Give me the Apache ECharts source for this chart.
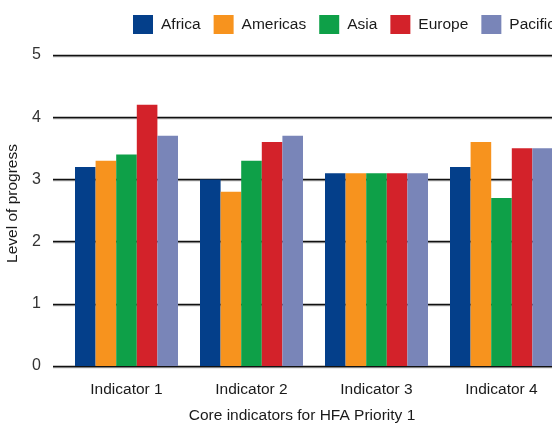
<!DOCTYPE html>
<html>
<head>
<meta charset="utf-8">
<script src="https://cdn.jsdelivr.net/npm/echarts@6/dist/echarts.min.js"></script>
<style>
html,body{margin:0;padding:0;background:#fff;}
#chart{width:552px;height:425px;}
</style>
</head>
<body>
<div id="chart"></div>
<script>
const categories = ['Indicator 1', 'Indicator 2', 'Indicator 3', 'Indicator 4'];
const africa   = [3.2, 3.0, 3.1, 3.2];
const americas = [3.3, 2.8, 3.1, 3.6];
const asia     = [3.4, 3.3, 3.1, 2.7];
const europe   = [4.2, 3.6, 3.1, 3.5];
const pacific  = [3.7, 3.7, 3.1, 3.5];
const seriesNames = ['Africa', 'Americas', 'Asia', 'Europe', 'Pacific'];
const seriesColors = ['#043f8a', '#f7931e', '#0ea048', '#d3222a', '#7985b8'];
const yTicks = [0, 1, 2, 3, 4, 5];

const FONT = "'Liberation Sans', Arial, sans-serif";
const FS = 15.5;
const seriesData = [africa, americas, asia, europe, pacific];

const chart = echarts.init(document.getElementById('chart'));
const gridLine = { color: '#111', width: 1.3, shadowColor: 'rgba(0,0,0,0.35)', shadowOffsetY: 1, shadowBlur: 0 };

chart.setOption({
  animation: false,
  textStyle: { fontFamily: FONT },
  legend: {
    left: 133, top: 15, width: 700, padding: 0,
    itemWidth: 20, itemHeight: 19, itemGap: 13,
    icon: 'rect',
    data: seriesNames,
    textStyle: { fontSize: FS, color: '#1a1a1a', fontFamily: FONT, padding: [0, 0, 0, 3] }
  },
  grid: [
    { left: 53, right: -12, top: 55, bottom: 59, outerBoundsMode: 'none', containLabel: false },
    { left: 64, right: -12, top: 55, bottom: 59, outerBoundsMode: 'none', containLabel: false }
  ],
  xAxis: [
    { type: 'value', gridIndex: 0, show: false, min: 0, max: 1 },
    {
      type: 'category', gridIndex: 1, data: categories,
      axisLine: { show: false }, axisTick: { show: false },
      axisLabel: { fontSize: FS, color: '#1a1a1a', margin: 16, fontFamily: FONT },
      name: 'Core indicators for HFA Priority 1',
      nameLocation: 'middle', nameGap: 42,
      nameTextStyle: { fontSize: FS, color: '#1a1a1a', fontFamily: FONT, padding: [0, 24, 0, 0] }
    }
  ],
  yAxis: [
    {
      type: 'value', gridIndex: 0, min: yTicks[0], max: yTicks[yTicks.length - 1], interval: 1,
      axisLine: { show: false }, axisTick: { show: false },
      axisLabel: { fontSize: 16, color: '#333', margin: 12, fontFamily: FONT },
      splitLine: { show: true, lineStyle: gridLine },
      name: 'Level of progress', nameLocation: 'middle', nameGap: 30,
      nameTextStyle: { fontSize: FS, color: '#1a1a1a', fontFamily: FONT, padding: [0, 0, 0, 14] }
    },
    { type: 'value', gridIndex: 1, min: 0, max: 5, show: false }
  ],
  series: seriesNames.map((n, i) => ({
    name: n, type: 'bar', xAxisIndex: 1, yAxisIndex: 1,
    data: seriesData[i],
    itemStyle: { color: seriesColors[i] },
    barGap: '0%', barCategoryGap: '17.6%'
  }))
});
</script>
</body>
</html>
